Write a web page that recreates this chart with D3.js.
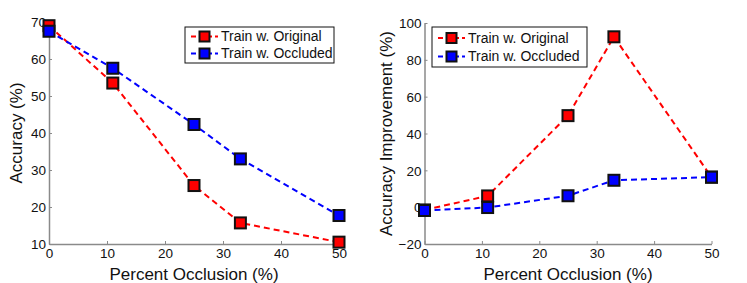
<!DOCTYPE html>
<html>
<head>
<meta charset="utf-8">
<script src="https://cdn.jsdelivr.net/npm/d3@7"></script>
<style>
  body { margin: 0; background: #fff; }
  text { font-family: "Liberation Sans", Arial, sans-serif; fill: #111; }
</style>
</head>
<body>
<svg id="chart" width="747" height="283"></svg>
<script>
// shared x values (percent occlusion)
const occlusion = [0, 11, 25, 33, 50];
const xTicks = [0, 10, 20, 30, 40, 50];

// left panel: accuracy
const accOriginal = [69, 53.5, 25.8, 15.7, 10.5];
const accOccluded = [67.5, 57.5, 42.3, 33, 17.7];
const accTicks = [10, 20, 30, 40, 50, 60, 70];

// right panel: accuracy improvement
const impOriginal = [-1.5, 6.1, 49.7, 92.5, 16.3];
const impOccluded = [-1.8, -0.2, 6.2, 14.6, 16.3];
const impTicks = [-20, 0, 20, 40, 60, 80, 100];

const seriesNames = ["Train w. Original", "Train w. Occluded"];
const seriesColors = ["#ff0000", "#0000ff"];

const svg = d3.select("#chart");

function drawPanel(opts) {
  const x = d3.scaleLinear().domain([0, 50]).range([opts.left, opts.right]);
  const y = d3.scaleLinear().domain(opts.yDomain).range([opts.bottom, opts.top]);
  const g = svg.append("g");

  // axes
  const xAxis = g.append("g")
    .attr("transform", `translate(0,${opts.bottom})`)
    .call(d3.axisBottom(x).tickValues(xTicks).tickSizeInner(-3).tickSizeOuter(0).tickPadding(4));
  const yAxis = g.append("g")
    .attr("transform", `translate(${opts.left},0)`)
    .call(d3.axisLeft(y).tickValues(opts.yTicks).tickSizeInner(-3).tickSizeOuter(0).tickPadding(3));
  [xAxis, yAxis].forEach(a => {
    a.select(".domain").attr("stroke", "#8a8a8a").attr("stroke-width", 1.5);
    a.selectAll(".tick line").attr("stroke", "#8a8a8a");
    a.selectAll(".tick text").style("font-size", "13.5px").attr("fill", "#111");
  });
  yAxis.selectAll(".tick text").attr("dy", "0.35em");

  // lines (straight segments between points)
  const line = d3.line()
    .x((d, i) => x(occlusion[i]))
    .y(d => y(d));

  opts.series.forEach((vals, si) => {
    g.append("path")
      .datum(vals)
      .attr("d", line)
      .attr("fill", "none")
      .attr("stroke", seriesColors[si])
      .attr("stroke-width", 2)
      .attr("stroke-dasharray", "6,4");
  });
  opts.series.forEach((vals, si) => {
    g.selectAll(null)
      .data(vals)
      .enter()
      .append("rect")
      .attr("x", (d, i) => x(occlusion[i]) - 5.5)
      .attr("y", d => y(d) - 5.5)
      .attr("width", 11)
      .attr("height", 11)
      .attr("fill", seriesColors[si])
      .attr("stroke", "#111")
      .attr("stroke-width", 2);
  });

  // legend
  const lg = g.append("g").attr("transform", `translate(${opts.legend[0]},${opts.legend[1]})`);
  lg.append("rect")
    .attr("width", opts.legend[2]).attr("height", opts.legend[3])
    .attr("fill", "#fff").attr("stroke", "#111").attr("stroke-width", 1);
  seriesNames.forEach((name, si) => {
    const cy = opts.legendRows[si];
    lg.append("line")
      .attr("x1", 6).attr("x2", 33).attr("y1", cy).attr("y2", cy)
      .attr("stroke", seriesColors[si]).attr("stroke-width", 2)
      .attr("stroke-dasharray", "5,3");
    lg.append("rect")
      .attr("x", 14.5).attr("y", cy - 5).attr("width", 10).attr("height", 10)
      .attr("fill", seriesColors[si]).attr("stroke", "#111").attr("stroke-width", 2);
    lg.append("text")
      .attr("x", 36).attr("y", cy).attr("dy", "0.35em")
      .style("font-size", "14px")
      .text(name);
  });

  // titles
  g.append("text")
    .attr("x", (opts.left + opts.right) / 2)
    .attr("y", 280)
    .attr("text-anchor", "middle")
    .style("font-size", "17px")
    .text("Percent Occlusion (%)");
  g.append("text")
    .attr("transform", `translate(${opts.yTitleX},${(opts.top + opts.bottom) / 2}) rotate(-90)`)
    .attr("text-anchor", "middle")
    .style("font-size", "17px")
    .text(opts.yTitle);
}

drawPanel({
  left: 49, right: 339, top: 22, bottom: 244,
  yDomain: [10, 70], yTicks: accTicks,
  series: [accOriginal, accOccluded],
  legend: [185, 27, 149, 36], legendRows: [9.5, 26.5],
  yTitle: "Accuracy (%)", yTitleX: 22
});

drawPanel({
  left: 424.5, right: 711.5, top: 23, bottom: 244,
  yDomain: [-20, 100], yTicks: impTicks,
  series: [impOriginal, impOccluded],
  legend: [432, 27, 155, 40], legendRows: [11, 29.5],
  yTitle: "Accuracy Improvement (%)", yTitleX: 392
});
</script>
</body>
</html>
